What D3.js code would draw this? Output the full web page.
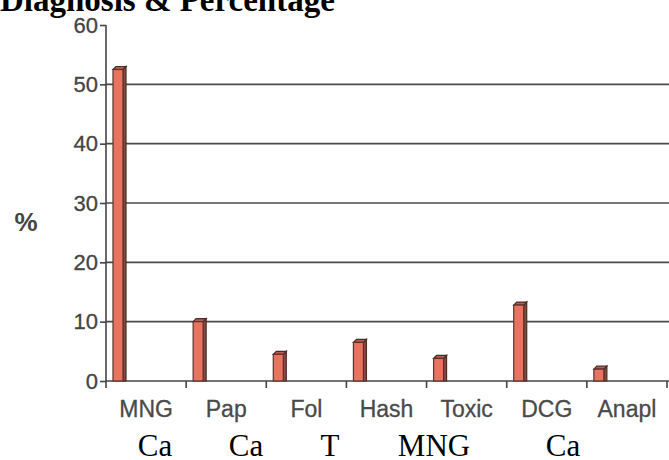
<!DOCTYPE html>
<html><head><meta charset="utf-8">
<script src="https://cdn.jsdelivr.net/npm/d3@7/dist/d3.min.js"></script>
<style>body{margin:0;background:#fff}svg{display:block}</style>
</head><body><svg id="c" width="669" height="460"></svg>
<script>
const categories = ["MNG","Pap","Fol","Hash","Toxic","DCG","Anapl"];
const values = [52.5, 10, 4.5, 6.5, 3.8, 12.8, 2];
const yTicks = [0,10,20,30,40,50,60];
const subLabels = [{t:"Ca",x:155},{t:"Ca",x:246},{t:"T",x:330},{t:"MNG",x:434},{t:"Ca",x:563}];
const title = "Diagnosis & Percentage";

const svg = d3.select("#c");
const x0 = 106, x1 = 667, yTop = 25, yBot = 381;
const x = d3.scaleBand().domain(categories).range([x0, x1]).paddingInner(0).paddingOuter(0);
const y = d3.scaleLinear().domain([0,60]).range([yBot, yTop]);
const axisCol = "#444";
const sans = "Liberation Sans, Arial, sans-serif";

// gridlines
svg.append("g").selectAll("line").data(yTicks.filter(d=>d>0&&d<60)).join("line")
  .attr("x1", x0).attr("x2", 669).attr("y1", d=>y(d)).attr("y2", d=>y(d))
  .attr("stroke", "#4a4a4a").attr("stroke-width", 1.6);

// y axis
const ya = svg.append("g").attr("transform", `translate(${x0},0)`)
  .call(d3.axisLeft(y).tickValues(yTicks).tickSize(6).tickPadding(2));
ya.select(".domain").attr("stroke", axisCol).attr("stroke-width", 1.6).attr("d", `M0,${yTop}V${yBot}`);
ya.selectAll(".tick line").attr("stroke", axisCol).attr("stroke-width", 1.6);
ya.selectAll(".tick text").attr("font-family", sans)
  .attr("font-size", 22).attr("fill", "#444").attr("stroke", "#444").attr("stroke-width", 0.3);

// x axis
const xa = svg.append("g").attr("transform", `translate(0,${yBot})`)
  .call(d3.axisBottom(x).tickSize(0).tickPadding(22));
xa.select(".domain").attr("stroke", axisCol).attr("stroke-width", 1.6).attr("d", `M${x0},0H669`);
xa.selectAll(".tick text").attr("font-family", sans)
  .attr("font-size", 23).attr("fill", "#4a4a4a").attr("stroke", "#4a4a4a").attr("stroke-width", 0.3)
  .attr("dy", "0.6em");
// band boundary ticks
svg.append("g").selectAll("line").data(categories.map(c=>x(c)).concat([x1]))
  .join("line").attr("x1", d=>d).attr("x2", d=>d).attr("y1", yBot).attr("y2", yBot+7)
  .attr("stroke", axisCol).attr("stroke-width", 1.6);

// bars with 3D side
const bw = 10, dep = 3;
const bars = svg.append("g").selectAll("g").data(categories.map((c,i)=>({c, v: values[i]}))).join("g");
bars.append("path").attr("d", d=>{
  const bx = x(d.c)+7, top = y(d.v);
  return `M${bx+bw},${yBot}V${top}L${bx+bw+dep},${top-dep}V${yBot}Z`;
}).attr("fill", "#8a4a42").attr("stroke", "#4a2a26").attr("stroke-width", 1.2);
bars.append("path").attr("d", d=>{
  const bx = x(d.c)+7, top = y(d.v);
  return `M${bx},${top}L${bx+dep},${top-dep}H${bx+bw+dep}L${bx+bw},${top}Z`;
}).attr("fill", "#b5604f").attr("stroke", "#4a2a26").attr("stroke-width", 1.2);
bars.append("rect").attr("x", d=>x(d.c)+7).attr("y", d=>y(d.v)).attr("width", bw)
  .attr("height", d=>yBot-y(d.v)).attr("fill", "#e8735f").attr("stroke", "#5a332e").attr("stroke-width", 1.2);

// % label
svg.append("text").attr("x", 26).attr("y", 231).attr("text-anchor","middle")
  .attr("font-family", sans).attr("font-weight","bold").attr("font-size", 26).attr("fill","#444").text("%");

// title
svg.append("text").attr("x", 0).attr("y", 11).attr("font-family","Liberation Serif, Times New Roman, serif")
  .attr("font-weight","bold").attr("font-size", 33).attr("fill","#000").text(title);

// sub labels
svg.append("g").selectAll("text").data(subLabels).join("text")
  .attr("x", d=>d.x).attr("y", 456).attr("text-anchor","middle")
  .attr("font-family","Liberation Serif, Times New Roman, serif").attr("font-size", 31).attr("fill","#000")
  .text(d=>d.t);
</script></body></html>
